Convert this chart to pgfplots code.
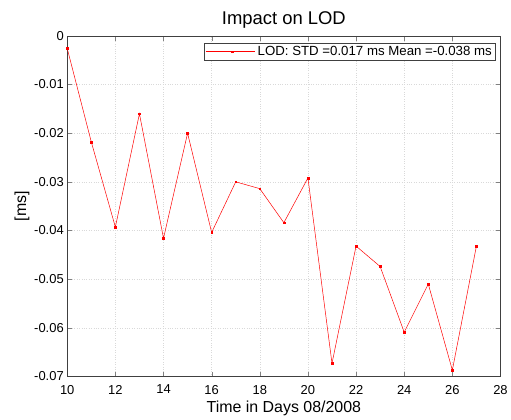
\documentclass[border=0pt]{standalone}
\usepackage{fontspec}
\setmainfont{Liberation Sans}
\usepackage{pgfplots}
\pgfplotsset{compat=1.18}
\begin{document}
\begin{tikzpicture}
\begin{axis}[
  scale only axis,
  width=435pt, height=342pt,
  xmin=10, xmax=28, ymin=-0.07, ymax=0,
  xtick={10,12,...,28},
  ytick={-0.07,-0.06,-0.05,-0.04,-0.03,-0.02,-0.01,0},
  yticklabels={-0.07,-0.06,-0.05,-0.04,-0.03,-0.02,-0.01,0},
  scaled y ticks=false,
  /pgf/number format/assume math mode=true,
  tick align=inside,
  ticklabel style={font=\fontsize{13}{15}\selectfont},
  xticklabel style={yshift=-5pt},
  major tick length=5pt,
  axis line style={black!75},
  grid=major,
  grid style={dotted, gray!30, line width=0.4pt},
  title={Impact on LOD},
  title style={font=\fontsize{18.5}{21}\selectfont, yshift=-2pt},
  xlabel={Time in Days 08/2008},
  xlabel style={font=\fontsize{16}{18}\selectfont, yshift=0pt},
  ylabel={[ms]},
  ylabel style={font=\fontsize{16}{18}\selectfont, yshift=-2pt},
  legend style={at={(0.9885,0.98)}, anchor=north east, font=\fontsize{13.3}{15}\selectfont,
    draw=black!75, inner sep=1.5pt, row sep=0pt, cells={anchor=west}},
  legend image code/.code={%
    \path (0pt,0pt) -- (50pt,0pt);
    \draw[red, line width=0.5pt] (6pt,0pt) -- (47pt,0pt);
    \fill[red] (25.6pt,-0.9pt) rectangle (27.4pt,0.9pt);
  },
  legend cell align=left,
]
\addplot[red, line width=0.5pt, mark=square*, mark size=0.9pt, mark options={red}] coordinates {
(10,-0.0026) (11,-0.0218) (12,-0.0393) (13,-0.0160) (14,-0.0416) (15,-0.0200)
(16,-0.0404) (17,-0.0300) (18,-0.0314) (19,-0.0384) (20,-0.0292) (21,-0.0673)
(22,-0.0432) (23,-0.0474) (24,-0.0609) (25,-0.0510) (26,-0.0687) (27,-0.0432)
};
\addlegendentry{LOD: STD =0.017 ms Mean =-0.038 ms}
\end{axis}
\path[use as bounding box] (-67.5pt,-41pt) rectangle (443.5pt,378pt);
\end{tikzpicture}
\end{document}
